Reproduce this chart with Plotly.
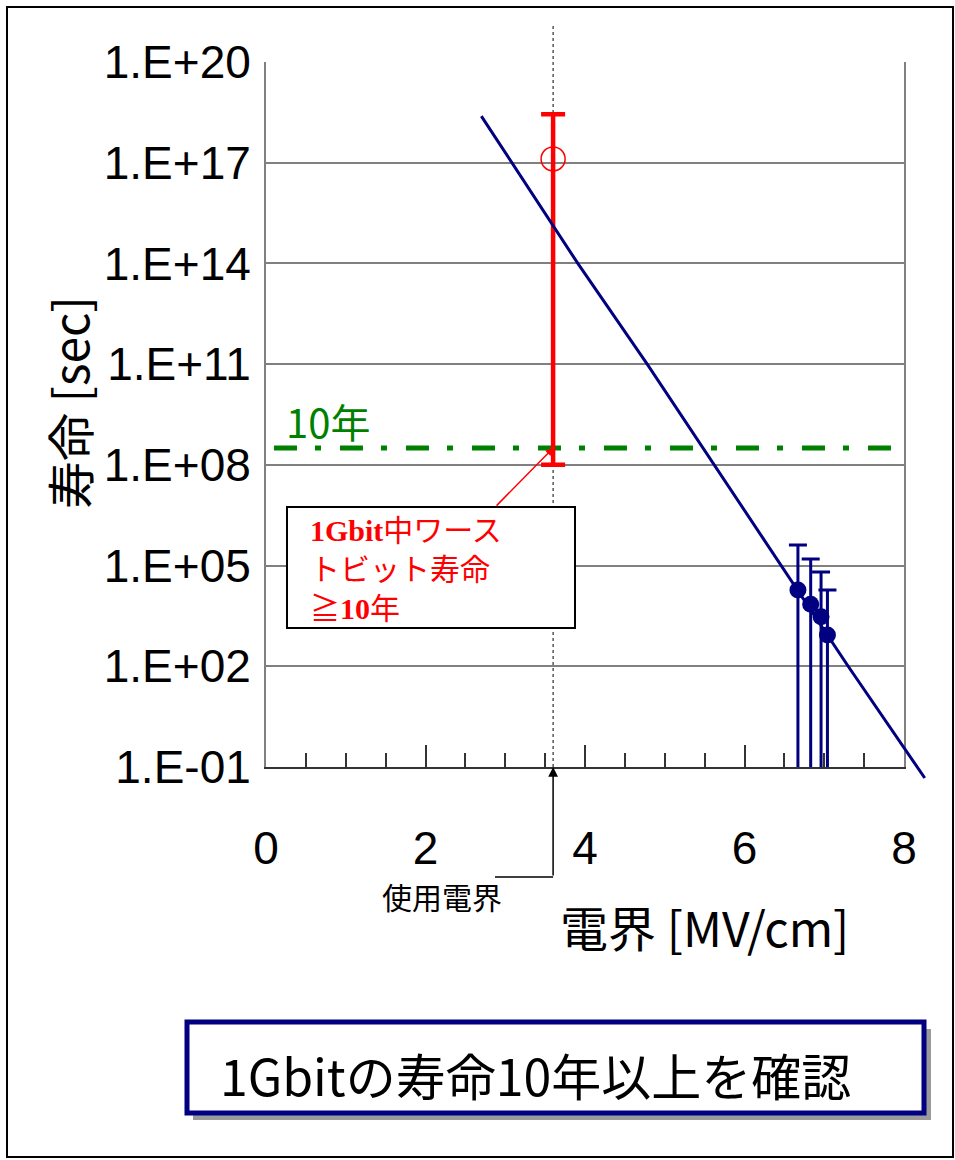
import numpy as np
import plotly.graph_objects as go

W, H = 955, 1160

# ---- data -------------------------------------------------------------
# accelerated stress measurements: field [MV/cm], lifetime [s]
stress_field = [6.67, 6.83, 6.96, 7.04]
stress_life = [1.87e4, 7.0e3, 3.0e3, 8.55e2]
stress_upper = [4.1e5, 1.57e5, 6.4e4, 1.87e4]
stress_lower = [0.05, 0.05, 0.05, 0.05]

# extrapolated lifetime line
fit_field = [2.70, 3.91, 4.78, 5.62, 7.30, 8.26]
fit_life = [2.45e18, 1.0e14, 1.0e11, 1.0e8, 1.0e2, 4.7e-2]

# worst bit of 1 Gbit at the operating field
use_field = 3.6
worst_life = 1.3e17
worst_upper = 2.8e18
worst_lower = 1.0e8

# 10 years in seconds
ten_years = 10 * 365.25 * 24 * 3600
ten_year_span = [0.1, 7.85]

y_tickvals = [1e-1, 1e2, 1e5, 1e8, 1e11, 1e14, 1e17, 1e20]
y_ticktext = ["1.E-01", "1.E+02", "1.E+05", "1.E+08", "1.E+11", "1.E+14", "1.E+17", "1.E+20"]

# ---- layout geometry (pixels) ----------------------------------------
PL, PR, PT, PB = 266, 904, 62, 767          # plot area
EXT_R, EXT_B = 940, 790                     # area the fit line may run into
XMIN, XMAX = 0, 8
YMIN, YMAX = -1, 20                         # log10
px_per_x = (PR - PL) / (XMAX - XMIN)
px_per_dec = (PB - PT) / (YMAX - YMIN)


def px(x):
    return x / W


def py(y):
    return (H - y) / H


JP = "Noto Sans CJK JP"
NUM = "Liberation Sans Narrow, Liberation Sans, Arial"
NAVY = "#000080"
RED = "#ff0000"
GREEN = "#008000"

fig = go.Figure()

# extrapolated line (on a slightly larger, hidden subplot with the same scale)
fig.add_trace(go.Scatter(
    x=fit_field, y=fit_life, mode="lines", xaxis="x2", yaxis="y2",
    line=dict(color=NAVY, width=3), hoverinfo="skip", showlegend=False))

# 10 year reference line
fig.add_trace(go.Scatter(
    x=ten_year_span, y=[ten_years, ten_years], mode="lines",
    line=dict(color=GREEN, width=5, dash="23px,18px,6px,19px"),
    showlegend=False))

# worst bit lifetime
fig.add_trace(go.Scatter(
    x=[use_field], y=[worst_life], mode="markers",
    marker=dict(symbol="circle-open", size=24, color=RED, line=dict(width=1.5)),
    error_y=dict(type="data", symmetric=False,
                 array=[worst_upper - worst_life],
                 arrayminus=[worst_life - worst_lower],
                 color=RED, thickness=4.5, width=12),
    showlegend=False))

# stress measurements
fig.add_trace(go.Scatter(
    x=stress_field, y=stress_life, mode="markers",
    marker=dict(symbol="circle", size=17, color=NAVY),
    error_y=dict(type="data", symmetric=False,
                 array=[u - v for u, v in zip(stress_upper, stress_life)],
                 arrayminus=[v - l for v, l in zip(stress_life, stress_lower)],
                 color=NAVY, thickness=3, width=9),
    showlegend=False))

shapes = [
    # outer frame
    dict(type="rect", xref="paper", yref="paper", x0=px(7), x1=px(953),
         y0=py(1157), y1=py(7), line=dict(color="black", width=2), layer="below"),
    # operating field marker line
    dict(type="line", xref="x", yref="paper", x0=use_field, x1=use_field,
         y0=py(PB), y1=py(25), line=dict(color="black", width=1, dash="dot"),
         layer="below"),
    # connector from the operating-field label
    dict(type="line", xref="x", yref="paper", x0=(495 - PL) / px_per_x, x1=use_field,
         y0=py(877), y1=py(877), line=dict(color="black", width=1.5)),
    # callout box
    dict(type="rect", xref="paper", yref="paper", x0=px(287), x1=px(575),
         y0=py(628), y1=py(507), fillcolor="white",
         line=dict(color="black", width=2), layer="above"),
    # summary box shadow and box
    dict(type="rect", xref="paper", yref="paper", x0=px(193), x1=px(931),
         y0=py(1120), y1=py(1029), fillcolor="#9a9a9a", line=dict(width=0)),
    dict(type="rect", xref="paper", yref="paper", x0=px(187), x1=px(924),
         y0=py(1113), y1=py(1022), fillcolor="white",
         line=dict(color=NAVY, width=5)),
]

SERIF_B = "font-family:'Liberation Serif','Times New Roman',serif;font-weight:bold"


def label(text, x, y, size, color="black", xanchor="center", **kw):
    return dict(text=text, xref="paper", yref="paper", x=px(x), y=py(y),
                xanchor=xanchor, yanchor="middle", showarrow=False,
                font=dict(family=JP, size=size, color=color), **kw)


callout_text = (f"<span style=\"{SERIF_B}\">1Gbit</span>中ワース<br>"
                "トビット寿命<br>"
                f"≧<span style=\"{SERIF_B}\">10</span>年")

annotations = [
    label("10年", 328, 421, 40, GREEN),
    # callout text
    label(callout_text, 308, 567, 30, RED, xanchor="left", align="left"),
    # callout leader
    dict(text="", xref="x", yref="y", x=use_field, y=np.log10(ten_years),
         axref="pixel", ayref="pixel", ax=-58, ay=59, showarrow=True,
         arrowhead=2, arrowsize=1, arrowwidth=1.5, arrowcolor=RED),
    # operating field arrow and label
    dict(text="", xref="x", yref="y", x=use_field, y=YMIN,
         ax=0, ay=877 - PB, showarrow=True, arrowhead=2, arrowsize=1.3,
         arrowwidth=1.5, arrowcolor="black"),
    label("使用電界", 442, 896, 30),
    # axis titles
    label("電界 [MV/cm]", 704, 926, 48),
    label("寿命 [sec]", 68, 403, 48, textangle=-90),
    # summary
    label("1Gbitの寿命10年以上を確認", 218, 1074, 50, xanchor="left"),
]

fig.update_layout(
    width=W, height=H,
    margin=dict(l=0, r=0, t=0, b=0),
    paper_bgcolor="white", plot_bgcolor="rgba(0,0,0,0)",
    showlegend=False,
    shapes=shapes, annotations=annotations,
    xaxis=dict(
        domain=[px(PL), px(PR)], range=[XMIN, XMAX], anchor="y",
        tickmode="linear", tick0=0, dtick=2,
        ticks="inside", ticklen=22, tickwidth=1.5, tickcolor="#333333",
        minor=dict(ticks="inside", ticklen=14, tickwidth=1.5, tickcolor="#333333",
                   tickmode="linear", tick0=0, dtick=0.5),
        showline=True, linecolor="#333333", linewidth=2,
        showgrid=False, zeroline=False, automargin=False,
        tickfont=dict(family=NUM, size=46, color="black"),
        ticklabelstandoff=40,
    ),
    yaxis=dict(
        domain=[py(PB), py(PT)], type="log", range=[YMIN, YMAX], anchor="x",
        tickmode="array", tickvals=y_tickvals, ticktext=y_ticktext,
        ticks="", showgrid=True, gridcolor="#808080", gridwidth=1.5,
        showline=True, linecolor="#808080", linewidth=2, mirror=True,
        zeroline=False, automargin=False,
        tickfont=dict(family=NUM, size=46, color="black"),
        ticklabelstandoff=4,
    ),
    xaxis2=dict(
        domain=[px(PL), px(EXT_R)], anchor="y2", visible=False,
        range=[XMIN, XMIN + (EXT_R - PL) / px_per_x],
    ),
    yaxis2=dict(
        domain=[py(EXT_B), py(PT)], anchor="x2", visible=False, type="log",
        range=[YMIN - (EXT_B - PB) / px_per_dec, YMAX],
    ),
)

fig.write_html("out.html")
